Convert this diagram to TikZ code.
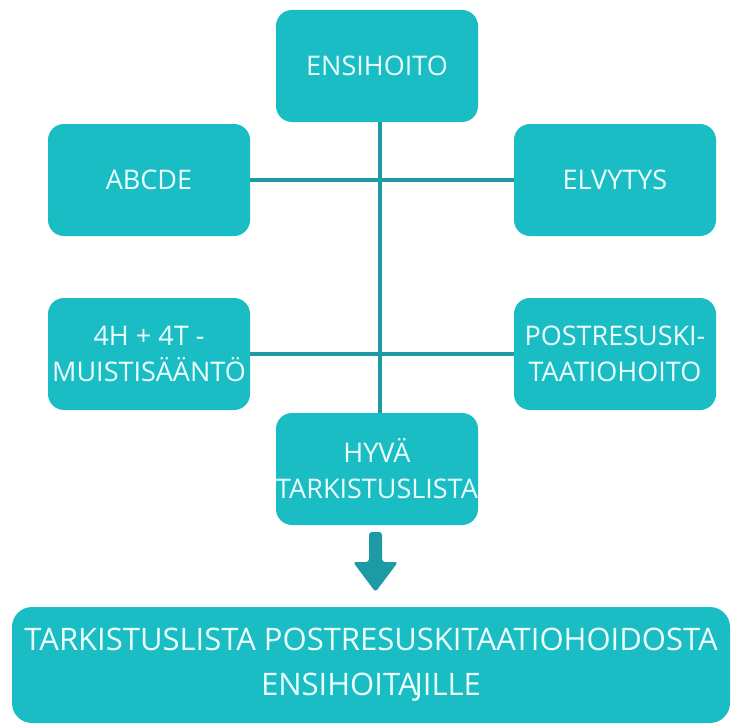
\documentclass[tikz,border=0pt]{standalone}
\usepackage{fontspec}
\setmainfont{Open Sans}
\definecolor{boxc}{RGB}{27,189,197}
\definecolor{linec}{RGB}{28,155,165}
\definecolor{txtc}{RGB}{236,255,255}
\tikzset{
  box/.style={fill=boxc, rounded corners=16pt, minimum width=202pt, minimum height=112pt, inner sep=0pt, text=txtc, align=center, font=\fontsize{27}{36}\selectfont},
  conn/.style={draw=linec, line width=4.5pt},
}
\begin{document}
\begin{tikzpicture}[x=1pt,y=-1pt]
\useasboundingbox (0,0) rectangle (733,725);
\fill[white] (0,0) rectangle (733,725);
\node[box] (ens) at (377,66) {ENSIHOITO};
\node[box] (abc) at (149,180) {ABCDE};
\node[box] (elv) at (615,180) {ELVYTYS};
\node[box] (muis) at (149,354) {4H + 4T -\\MUISTISÄÄNTÖ};
\node[box] (post) at (615,354) {POSTRESUSKI-\\TAATIOHOITO};
\node[box] (hyva) at (377,469) {HYVÄ\\TARKISTUSLISTA};
\coordinate (cT) at (380,122);
\coordinate (cB) at (380,413);
\draw[conn] (cT) -- (cB);
\draw[conn] (abc.east) -- (elv.west);
\draw[conn] (muis.east) -- (post.west);
\node[box, minimum width=718pt, minimum height=116pt, rounded corners=20pt, font=\fontsize{31}{45}\selectfont] (tark) at (371,665) {TARKISTUSLISTA POSTRESUSKITAATIOHOIDOSTA\\ENSIHOITA\kern-3pt JILLE};
\fill[linec, rounded corners=3pt] (369,532) -- (382,532) -- (382,562) -- (398,562) -- (375.5,592) -- (353,562) -- (369,562) -- cycle;
\end{tikzpicture}
\end{document}
